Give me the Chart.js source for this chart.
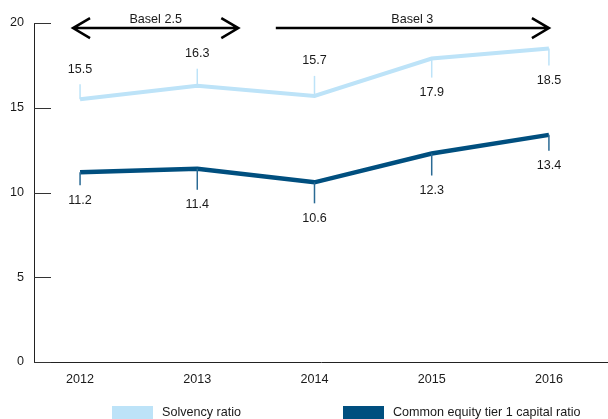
<!DOCTYPE html>
<html lang="en">
  <head>
    <meta charset="UTF-8" />
    <script src="https://cdn.jsdelivr.net/npm/chart.js"></script>
    <title>Capital ratios</title>
    <style>
      body { margin: 0; background: #fff; }
      #wrap { width: 608px; height: 419px; }
    </style>
  </head>
  <body>
    <div id="wrap"><canvas id="ratioChart" width="608" height="419"></canvas></div>

    <script>
      const years = [2012, 2013, 2014, 2015, 2016];
      const solvency = [15.5, 16.3, 15.7, 17.9, 18.5];
      const cet1 = [11.2, 11.4, 10.6, 12.3, 13.4];
      const yTicks = [0, 5, 10, 15, 20];

      const periodLabels = ["Basel 2.5", "Basel 3"];
      const periodFrom = [2011.94, 2013.67];
      const periodTo = [2013.35, 2016];
      const periodBothEnds = [true, false];

      const LIGHT = "#bde3f8";
      const DARK = "#004f7f";
      const FAMILY = "'Liberation Sans', Arial, sans-serif";
      const FONT = "12.6px " + FAMILY;

      // leader line length (px) and direction for every value label
      const callouts = {
        0: { up: [true, true, true, false, false], len: [15, 17, 20, 19, 17] },
        1: { up: [false, false, false, false, false], len: [13, 21, 21, 22, 16] },
      };

      const extras = {
        id: "extras",
        afterDraw(chart) {
          const ctx = chart.ctx;
          const xs = chart.scales.x;
          const ys = chart.scales.y;
          const area = chart.chartArea;
          ctx.save();

          // inward ticks on the y axis
          ctx.strokeStyle = "#333";
          ctx.lineWidth = 1;
          yTicks.forEach((v) => {
            const y = Math.round(ys.getPixelForValue(v)) + 0.5;
            ctx.beginPath();
            ctx.moveTo(area.left, y);
            ctx.lineTo(area.left + 17, y);
            ctx.stroke();
          });

          // value labels with leader lines
          ctx.font = FONT;
          ctx.fillStyle = "#1a1a1a";
          ctx.textAlign = "center";
          ctx.textBaseline = "middle";
          chart.data.datasets.forEach((ds, di) => {
            const c = callouts[di];
            ds.data.forEach((pt, i) => {
              const x = xs.getPixelForValue(pt.x);
              const y = ys.getPixelForValue(pt.y);
              const dir = c.up[i] ? -1 : 1;
              const end = y + dir * c.len[i];
              ctx.strokeStyle = di === 0 ? LIGHT : "#2a6a94";
              ctx.lineWidth = 1.5;
              ctx.beginPath();
              ctx.moveTo(x, y);
              ctx.lineTo(x, end);
              ctx.stroke();
              ctx.fillText(pt.y.toFixed(1), x, end + dir * 15);
            });
          });

          // regulatory period arrows
          const ay = ys.getPixelForValue(19.7);
          ctx.strokeStyle = "#000";
          ctx.lineWidth = 2.5;
          periodLabels.forEach((label, i) => {
            const x1 = xs.getPixelForValue(periodFrom[i]);
            const x2 = xs.getPixelForValue(periodTo[i]);
            ctx.beginPath();
            ctx.moveTo(x1, ay);
            ctx.lineTo(x2, ay);
            ctx.moveTo(x2 - 17, ay - 10);
            ctx.lineTo(x2, ay);
            ctx.lineTo(x2 - 17, ay + 10);
            if (periodBothEnds[i]) {
              ctx.moveTo(x1 + 17, ay - 10);
              ctx.lineTo(x1, ay);
              ctx.lineTo(x1 + 17, ay + 10);
            }
            ctx.stroke();
            ctx.fillStyle = "#1a1a1a";
            ctx.fillText(label, (x1 + x2) / 2, ay - 9);
          });

          // legend
          const legendX = [112, 343];
          ctx.textAlign = "left";
          chart.data.datasets.forEach((ds, di) => {
            ctx.fillStyle = ds.borderColor;
            ctx.fillRect(legendX[di], 406, 41, 14);
            ctx.fillStyle = "#1a1a1a";
            ctx.fillText(ds.label, legendX[di] + 50, 413);
          });

          ctx.restore();
        },
      };

      new Chart(document.getElementById("ratioChart").getContext("2d"), {
        type: "line",
        data: {
          datasets: [
            {
              label: "Solvency ratio",
              data: years.map((y, i) => ({ x: y, y: solvency[i] })),
              borderColor: LIGHT,
              backgroundColor: LIGHT,
              borderWidth: 4,
              pointRadius: 0,
              tension: 0,
            },
            {
              label: "Common equity tier 1 capital ratio",
              data: years.map((y, i) => ({ x: y, y: cet1[i] })),
              borderColor: DARK,
              backgroundColor: DARK,
              borderWidth: 4.5,
              pointRadius: 0,
              tension: 0,
            },
          ],
        },
        options: {
          responsive: false,
          animation: false,
          layout: { padding: { top: 23, right: 0, left: 0, bottom: 0 } },
          plugins: {
            legend: { display: false },
            tooltip: { enabled: false },
          },
          scales: {
            x: {
              type: "linear",
              min: 2011.607,
              max: 2016.504,
              afterBuildTicks: (scale) => {
                scale.ticks = years.map((v) => ({ value: v }));
              },
              afterFit: (scale) => {
                scale.height = 57;
              },
              grid: { display: false, drawTicks: false },
              border: { display: true, color: "#222", width: 1 },
              ticks: {
                padding: 10,
                color: "#1a1a1a",
                font: { family: FAMILY, size: 12.6 },
                callback: (v) => String(v),
              },
            },
            y: {
              min: 0,
              max: 20,
              afterBuildTicks: (scale) => {
                scale.ticks = yTicks.map((v) => ({ value: v }));
              },
              afterFit: (scale) => {
                scale.width = 34;
              },
              grid: { display: false, drawTicks: false },
              border: { display: true, color: "#222", width: 1 },
              ticks: {
                padding: 10,
                color: "#1a1a1a",
                font: { family: FAMILY, size: 12.6 },
              },
            },
          },
        },
        plugins: [extras],
      });
    </script>
  </body>
</html>
